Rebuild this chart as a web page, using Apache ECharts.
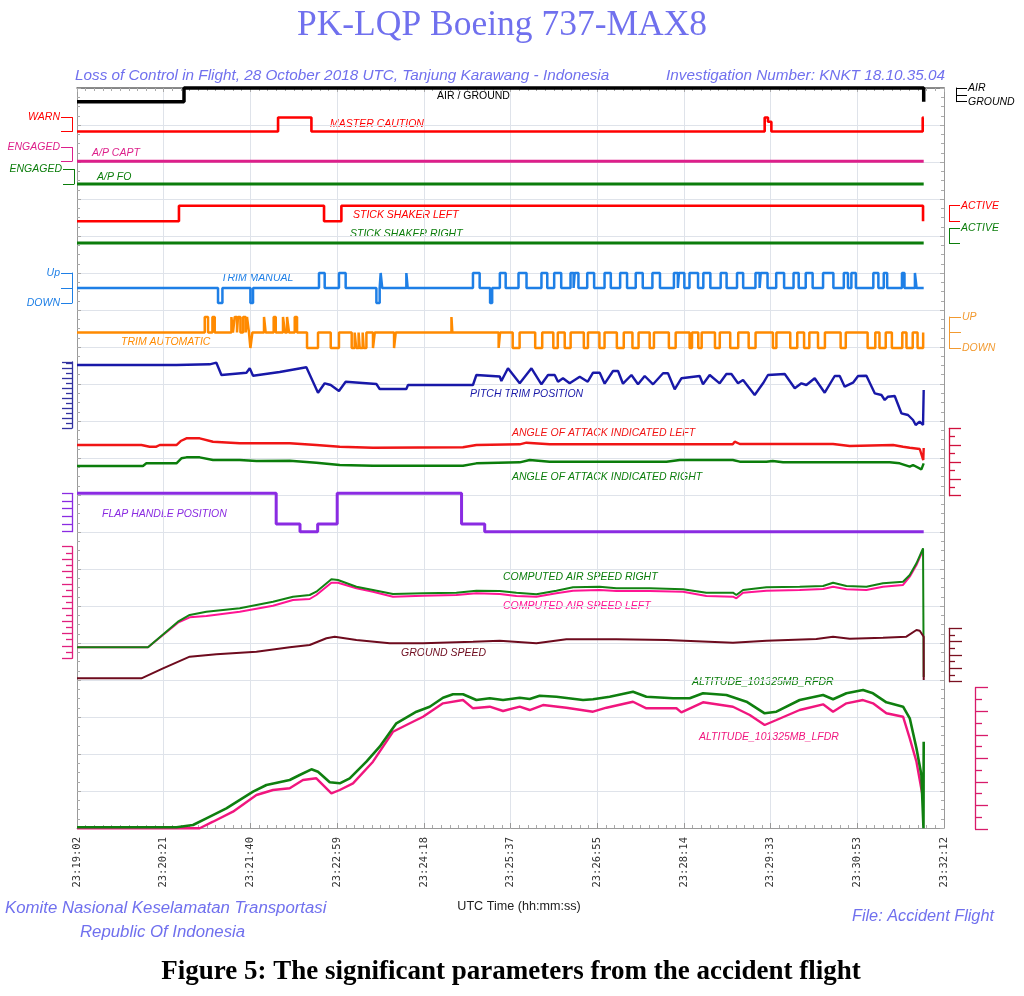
<!DOCTYPE html>
<html><head><meta charset="utf-8">
<script src="https://cdn.jsdelivr.net/npm/echarts/dist/echarts.min.js"></script>
<style>html,body{margin:0;padding:0;background:#fff}#c{width:1024px;height:996px}</style>
</head><body><div id="c"></div>
<script>
// ---------------- DATA ----------------
const TIME_TICKS = ['23:19:02','23:20:21','23:21:40','23:22:59','23:24:18','23:25:37','23:26:55','23:28:14','23:29:33','23:30:53','23:32:12'];
const TICK_STEP_S = 79;      // seconds between time ticks
const SPAN_S = 790;          // 23:19:02 -> 23:32:12
const T_END = 771.5;         // last recorded sample (s)

// discrete parameters: [time s, state]  (state holds until next entry)
const airGround        = [[0,0],[97.5,1],[771.5,0]];
const masterCaution    = [[0,0],[183.2,1],[213.6,0],[626.6,1],[629.6,0.7],[632.7,0],[770.6,1],[771.5,1]];
const apCapt           = [[0,0],[771.5,0]];
const apFo             = [[0,0],[771.5,0]];
const stickShakerLeft  = [[0,0],[92.9,1],[225.1,0],[240.9,1],[770.9,0],[771.5,0]];
const stickShakerRight = [[0,0],[771.5,0]];

// trim switch pulses: [start s, end s, direction +1 up / -1 down]
const trimManual = [[128.5,132.5,-1],[158.0,160.4,-1],[220.5,225.7,1],[238.7,244.8,1],[272.8,275.8,-1],[276.7,278.1,1],[300.1,301.3,1],[360.8,366.9,1],[376.4,378.3,-1],[385.3,390.6,1],[402.3,409.6,1],[423.2,428.5,1],[434.8,441.2,1],[449.7,452.5,1],[453.5,456.9,1],[464.9,471.2,1],[480.7,486.4,1],[494.9,501.2,1],[509.1,515.5,1],[524.3,531.2,1],[543.9,547.5,1],[548.5,553.4,1],[558.1,565.9,1],[570.7,577.1,1],[586.5,591.9,1],[601.4,607.0,1],[618.2,622.0,1],[623.0,629.2,1],[637.1,644.3,1],[652.9,657.6,1],[664.0,670.3,1],[679.8,689.2,1],[698.7,702.5,1],[705.6,709.7,1],[725.6,730.2,1],[735.1,738.2,1],[751.7,754.0,1],[763.5,765.0,1]];
const trimAuto = [[116.4,119.4,1],[123.4,125.5,1],[140.7,142.1,1],[143.7,145.8,1],[146.7,148.9,1],[151.3,153.7,1],[154.9,156.7,1],[158.0,159.8,-1],[170.4,171.9,1],[179.2,181.1,1],[187.7,189.5,1],[191.4,193.2,1],[198.4,200.5,1],[209.6,219.6,-1],[231.2,238.7,-1],[250.3,253.0,-1],[254.4,256.6,-1],[257.6,260.3,-1],[261.2,263.7,-1],[269.7,271.3,-1],[288.9,290.4,-1],[341.2,342.0,1],[384.2,385.5,-1],[397.0,403.3,-1],[417.5,423.9,-1],[434.0,438.1,-1],[444.4,449.8,-1],[461.8,465.6,-1],[476.0,480.7,-1],[491.9,498.2,-1],[506.1,511.7,-1],[521.8,525.7,-1],[539.3,545.5,-1],[558.2,560.4,-1],[566.1,569.2,-1],[581.3,585.7,-1],[595.2,602.5,-1],[612.0,618.3,-1],[634.1,637.3,-1],[649.9,656.3,-1],[662.5,667.3,-1],[675.2,681.5,-1],[695.8,700.5,-1],[720.4,727.4,-1],[731.2,736.9,-1],[742.5,752.0,-1],[755.8,761.5,-1],[765.9,771.0,-1]];

// pitch trim position [s, units]
const pitchTrim = [[0,12.6],[90.6,12.6],[120.9,12.74],[127.0,13.06],[131.6,10.6],[154.4,11.06],[157.4,11.94],[160.4,10.46],[184.7,11.2],[209.0,12.14],[219.6,7.06],[225.7,8.94],[231.2,8.6],[238.7,7.4],[244.8,9.26],[272.8,8.8],[275.8,7.8],[300.1,7.8],[301.6,8.6],[360.8,8.6],[363.9,10.6],[385.2,10.3],[386.7,9.4],[392.7,11.94],[403.4,8.94],[414.1,11.94],[423.2,8.74],[429.2,10.6],[435.3,10.6],[438.3,9.26],[442.8,9.94],[448.9,8.94],[458.1,10.26],[465.4,9.26],[470.2,11.06],[476.3,11.06],[480.8,8.86],[488.4,11.4],[493.0,11.4],[497.5,8.86],[505.2,10.6],[511.2,8.74],[517.3,10.4],[524.9,8.74],[534.0,10.94],[538.5,10.94],[544.6,7.74],[550.7,9.94],[567.4,10.4],[570.4,8.74],[576.5,10.6],[585.6,8.94],[591.7,10.8],[596.3,10.8],[602.3,8.94],[606.9,9.6],[617.5,6.6],[625.1,8.94],[629.6,10.6],[644.9,10.8],[654.0,7.94],[660.1,8.94],[664.6,8.6],[672.2,9.94],[681.3,7.06],[690.4,10.4],[695.0,10.4],[699.5,8.26],[707.1,9.06],[711.7,10.4],[719.3,10.46],[726.9,6.94],[733.0,6.6],[736.0,5.6],[739.0,6.26],[745.1,6.4],[751.2,2.94],[757.2,2.6],[761.8,1.6],[764.2,0.6],[767.8,1.26],[770.9,0.6],[771.5,7.6]];

// angle of attack [s, deg-scale]
const aoaLeft = [[0,15.04],[58.7,15.04],[66.2,14.54],[72.3,14.54],[75.4,15.04],[90.6,15.04],[94.5,16.23],[99.7,17.03],[111.8,17.03],[123.9,16.02],[148.3,15.55],[193.8,15.55],[218.1,15.04],[239.4,14.54],[269.7,14.24],[351.7,14.36],[363.9,15.04],[403.4,15.25],[409.5,15.73],[430.7,15.25],[537.1,15.25],[597.5,15.25],[599.3,16.02],[603.9,15.34],[688.9,15.34],[704.1,14.75],[743.6,15.04],[752.7,14.54],[758.8,14.24],[767.9,13.86],[771.1,10.59],[771.5,14.15]];
const aoaRight = [[0,8.81],[60.1,8.81],[63.2,9.61],[90.6,9.61],[95.1,11.10],[99.7,11.39],[111.8,11.39],[123.9,10.59],[148.3,10.59],[163.5,10.30],[193.8,10.39],[218.1,9.79],[239.4,9.11],[269.7,8.90],[351.7,8.90],[363.9,9.61],[403.4,9.91],[412.5,10.59],[430.7,10.09],[537.1,10.09],[549.2,10.59],[597.5,10.59],[599.3,10.80],[603.9,10.09],[628.2,10.09],[633.9,10.30],[643.3,9.91],[740.5,9.91],[749.6,9.61],[758.8,8.61],[761.8,9.11],[769.4,7.83],[771.5,9.61]];

// flap handle [s, position]
const flapHandle = [[0,5],[181.5,1],[203.2,0],[219.3,1],[237.1,5],[350.4,1],[371.5,0],[771.5,0]];

// computed airspeed / ground speed [s, kt]
const casRight = [[0,35.5],[64.7,35.5],[92.0,118.1],[102.7,139.7],[117.9,150.3],[148.3,161.3],[178.6,182.6],[196.8,198.7],[212.0,204.2],[218.1,214.8],[231.8,254.8],[237.8,252.6],[254.6,231.0],[269.7,220.3],[287.9,207.4],[315.3,209.7],[345.7,211.6],[363.9,218.1],[385.2,217.1],[400.4,211.6],[418.6,206.5],[436.8,218.1],[452.0,229.0],[476.3,231.0],[491.5,225.8],[521.8,225.8],[552.2,222.6],[573.5,211.6],[597.7,211.6],[600.8,204.2],[606.9,220.3],[628.2,229.0],[658.5,231.0],[679.8,233.2],[688.9,243.9],[701.1,233.2],[719.3,231.0],[734.4,241.9],[752.7,247.1],[758.8,268.7],[764.9,306.5],[770.9,354.8],[771.5,-60]];
const casLeft = [[0,35.5],[64.7,35.5],[92.0,114.8],[102.7,132.3],[117.9,136.5],[148.3,150.3],[178.6,169.7],[196.8,188.1],[212.0,191.3],[218.1,204.2],[231.8,243.9],[237.8,243.9],[254.6,225.8],[269.7,214.8],[287.9,198.7],[315.3,201.9],[345.7,204.2],[363.9,209.7],[385.2,207.4],[400.4,201.0],[418.6,198.7],[436.8,209.7],[452.0,218.1],[476.3,220.3],[491.5,217.1],[521.8,217.1],[552.2,214.8],[573.5,201.0],[597.7,198.7],[600.8,193.5],[606.9,211.6],[628.2,218.1],[658.5,220.3],[679.8,223.5],[688.9,231.0],[701.1,222.6],[719.3,220.3],[734.4,231.0],[752.7,236.5],[758.8,263.2],[764.9,301.0],[770.9,349.4]];
const groundSpeed = [[0,25.5],[58.7,25.5],[78.4,100.4],[102.7,187.3],[127.0,205.3],[163.5,224.7],[193.8,257.7],[212.0,274.9],[227.3,325.1],[234.8,337.1],[254.6,312.4],[284.9,287.7],[315.3,287.7],[360.8,299.6],[385.2,307.1],[418.6,287.7],[445.9,317.6],[491.5,317.6],[537.1,312.4],[597.7,292.1],[628.2,307.1],[673.7,319.9],[688.9,337.1],[704.1,322.1],[734.4,329.6],[755.7,337.1],[764.9,387.3],[767.9,382.0],[771.5,337.1],[771.5,12.7]];

// pressure altitude [s, ft]
const altRight = [[0,72],[90.6,72],[105.7,170],[117.9,454],[136.1,879],[160.4,1584],[172.6,1868],[193.8,2081],[202.9,2293],[213.6,2535],[219.6,2433],[230.3,1983],[239.4,1940],[248.5,2153],[263.7,2858],[275.8,3494],[291.0,4488],[309.3,4981],[321.4,5193],[333.5,5575],[342.6,5719],[351.7,5719],[363.9,5477],[376.1,5550],[388.2,5477],[403.4,5575],[412.5,5520],[421.6,5660],[436.8,5617],[461.1,5477],[470.2,5507],[485.4,5617],[506.6,5830],[518.8,5617],[543.1,5550],[558.3,5550],[570.4,5762],[591.7,5690],[610.0,5405],[626.6,4913],[637.3,4981],[658.5,5477],[679.8,5690],[688.9,5507],[701.1,5762],[716.2,5902],[725.3,5762],[737.5,5380],[752.7,5193],[758.8,4700],[764.9,3427],[769.4,2293],[771.3,30],[771.5,3707]];
const altLeft = [[0,30],[111.8,30],[123.9,310],[142.1,735],[163.5,1444],[178.6,1656],[193.8,1728],[205.9,2081],[218.1,2153],[231.8,1516],[239.4,1656],[251.5,1940],[269.7,2858],[287.9,4131],[300.1,4416],[315.3,4768],[333.5,5337],[351.7,5477],[360.8,5125],[376.1,5193],[388.2,5010],[403.4,5193],[412.5,5053],[424.6,5265],[445.9,5150],[470.2,4981],[482.4,5150],[506.6,5405],[518.8,5125],[546.2,5125],[550.7,4955],[570.4,5380],[597.7,5193],[613.0,4840],[626.6,4416],[637.3,4628],[658.5,5053],[679.8,5295],[688.9,4981],[701.1,5337],[716.2,5477],[725.3,5337],[737.5,4913],[752.7,4768],[758.8,3851],[764.9,2858],[770.9,1304]];

// ---------------- BUILD ----------------
function pulses(list){ const d=[[0,0]]; list.forEach(p=>{d.push([p[0],p[2]]);d.push([p[1],0]);}); d.push([T_END,0]); return d; }

const C = {red:'#ff0000', mag:'#dd1f8a', green:'#0b7d0b', blue:'#1e7fe6', orange:'#ff8a00', navy:'#1818a8', purple:'#8a2be2', pink:'#ff1493', maroon:'#6e0b1e'};
const SANS = '"Liberation Sans", Arial, sans-serif';
const GRIDC = '#dfe3ea';
const grid=[], xAxis=[], yAxis=[], series=[];

grid.push({left:77, right:80, top:88, bottom:168});
const frameLine = {show:true, onZero:false, lineStyle:{color:'#9a9a9a', width:1}};
xAxis.push({type:'value', gridIndex:0, min:0, max:SPAN_S, interval:TICK_STEP_S, position:'bottom', axisLine:frameLine,
  axisTick:{show:true, inside:true, length:5, lineStyle:{color:'#9a9a9a'}},
  minorTick:{show:true, splitNumber:10, length:3, lineStyle:{color:'#aaaaaa'}},
  splitLine:{show:true, lineStyle:{color:GRIDC, width:1}},
  axisLabel:{show:true, rotate:90, margin:9, fontFamily:'"DejaVu Sans Mono", monospace', fontSize:10.5, color:'#333',
    showMinLabel:true, showMaxLabel:true, formatter:v=>TIME_TICKS[Math.round(v/TICK_STEP_S)]||''}});
xAxis.push({type:'value', gridIndex:0, min:0, max:SPAN_S, interval:TICK_STEP_S, position:'top', axisLine:{show:true, onZero:false, lineStyle:{color:'#666', width:1.5}},
  axisTick:{show:true, inside:true, length:4, lineStyle:{color:'#aaaaaa'}}, minorTick:{show:true, splitNumber:10, length:3, lineStyle:{color:'#aaaaaa'}},
  splitLine:{show:false}, axisLabel:{show:false}});
yAxis.push({type:'value', gridIndex:0, min:0, max:20, interval:1, position:'left', axisLine:frameLine,
  axisTick:{show:true, inside:true, length:4, lineStyle:{color:'#aaaaaa'}}, minorTick:{show:true, splitNumber:4, length:3, lineStyle:{color:'#aaaaaa'}},
  splitLine:{show:true, lineStyle:{color:GRIDC, width:1}}, axisLabel:{show:false}});
yAxis.push({type:'value', gridIndex:0, min:0, max:20, interval:1, position:'right', axisLine:frameLine,
  axisTick:{show:true, inside:true, length:4, lineStyle:{color:'#aaaaaa'}}, minorTick:{show:true, splitNumber:4, length:3, lineStyle:{color:'#aaaaaa'}},
  splitLine:{show:false}, axisLabel:{show:false}});

function bracket(pos, offset, color, interval, labels, len){
  return {show:true, position:pos, offset, interval,
    axisLine:{show:true, onZero:false, lineStyle:{color, width:1}},
    axisTick:{show:true, length:len, lineStyle:{color, width:1}},
    axisLabel:{show:true, margin:len+1, color, fontSize:10.5, fontStyle:'italic', fontFamily:SANS, showMinLabel:true, showMaxLabel:true,
      formatter:v=> (labels[String(v)]!==undefined ? labels[String(v)] : '')}};
}
function ruler(pos, offset, color, interval, len, minorSplit, minorLen){
  return {show:true, position:pos, offset, interval,
    axisLine:{show:true, onZero:false, lineStyle:{color, width:1.3}},
    axisTick:{show:true, length:len, lineStyle:{color, width:1.3}},
    minorTick:{show:!!minorSplit, splitNumber:minorSplit||5, length:minorLen||0, lineStyle:{color, width:1.3}},
    axisLabel:{show:false}};
}
function addBand(top, height, min, max, ycfg){
  const g = grid.length;
  grid.push({left:77, right:80, top, height});
  xAxis.push({type:'value', gridIndex:g, min:0, max:SPAN_S, show:false});
  yAxis.push(Object.assign({type:'value', gridIndex:g, min, max, splitLine:{show:false}}, ycfg));
  return {x:xAxis.length-1, y:yAxis.length-1};
}
function addLine(b, name, data, color, width, step){
  series.push({type:'line', name, data, xAxisIndex:b.x, yAxisIndex:b.y, symbol:'none', showSymbol:false, step:step||false,
    lineStyle:{color, width}, itemStyle:{color}, clip:false, silent:true, animation:false});
}

const bAir  = addBand(88, 13.7, 0, 1, bracket('right', 12, '#000', 0.5, {'1':'AIR','0':'GROUND'}, 11));
const bMC   = addBand(117.5, 14, 0, 1, bracket('left', 5, C.red, 1, {'1':'WARN'}, 11));
const bAPC  = addBand(147.5, 13.7, 0, 1, bracket('left', 5, C.mag, 1, {'1':'ENGAGED'}, 11));
const bAPF  = addBand(169.5, 14.5, 0, 1, bracket('left', 3, C.green, 1, {'1':'ENGAGED'}, 11));
const bSSL  = addBand(205.7, 15.6, 0, 1, bracket('right', 5, C.red, 1, {'1':'ACTIVE'}, 11));
const bSSR  = addBand(228.5, 14.5, 0, 1, bracket('right', 5, C.green, 1, {'1':'ACTIVE'}, 11));
const bTM   = addBand(273, 30, -1, 1, bracket('left', 5, C.blue, 1, {'1':'Up','-1':'DOWN'}, 11));
const bTA   = addBand(317, 31, -1, 1, bracket('right', 5, '#f29a30', 1, {'1':'UP','-1':'DOWN'}, 12));
const bPT   = addBand(362, 66, 0, 13.2, ruler('left', 5, '#3232a0', 2, 10, 2, 6));
const bAOA  = addBand(428.3, 67.4, 0, 20, ruler('right', 5, '#d0103c', 5, 12, 2, 6));
const bFlap = addBand(493.3, 38.4, 0, 5, ruler('left', 5, C.purple, 1, 10, 0, 0));
const bCAS  = addBand(546.7, 111.6, 0, 360, ruler('left', 5, '#e0207e', 40, 10, 2, 6));
const bGS   = addBand(628.3, 53.4, 0, 400, ruler('right', 5, '#7a1020', 100, 13, 2, 6));
const bAlt  = addBand(687.7, 141.3, 0, 6000, ruler('right', 31, '#d81b6a', 1000, 13, 2, 7));

addLine(bAir, 'AIR / GROUND', airGround, '#000', 3.5, 'end');
addLine(bMC, 'MASTER CAUTION', masterCaution, C.red, 2.6, 'end');
addLine(bAPC, 'A/P CAPT', apCapt, C.mag, 3, 'end');
addLine(bAPF, 'A/P FO', apFo, C.green, 2.8, 'end');
addLine(bSSL, 'STICK SHAKER LEFT', stickShakerLeft, C.red, 2.6, 'end');
addLine(bSSR, 'STICK SHAKER RIGHT', stickShakerRight, C.green, 2.8, 'end');
addLine(bTM, 'TRIM MANUAL', pulses(trimManual), C.blue, 2.5, 'end');
addLine(bTA, 'TRIM AUTOMATIC', pulses(trimAuto), C.orange, 2.5, 'end');
addLine(bPT, 'PITCH TRIM POSITION', pitchTrim, C.navy, 2.4);
addLine(bAOA, 'ANGLE OF ATTACK INDICATED LEFT', aoaLeft, '#f01515', 2.4);
addLine(bAOA, 'ANGLE OF ATTACK INDICATED RIGHT', aoaRight, C.green, 2.4);
addLine(bFlap, 'FLAP HANDLE POSITION', flapHandle, C.purple, 3, 'end');
addLine(bCAS, 'COMPUTED AIR SPEED LEFT', casLeft, C.pink, 2);
addLine(bCAS, 'COMPUTED AIR SPEED RIGHT', casRight, '#128212', 2);
addLine(bGS, 'GROUND SPEED', groundSpeed, C.maroon, 2);
addLine(bAlt, 'ALTITUDE_101325MB_LFDR', altLeft, '#f0167e', 2.4);
addLine(bAlt, 'ALTITUDE_101325MB_RFDR', altRight, '#0f7f0f', 2.6);

// ---------------- TEXT (layout) ----------------
const HEAD = '#7070ee';
function txt(text, x, y, fill, font, align){
  return {type:'text', x, y, silent:true, style:{text, fill, font, align:align||'left', verticalAlign:'middle', textAlign:align||'left', textVerticalAlign:'middle'}};
}
const LBL = 'italic 10.5px ' + SANS;
const graphic = [
  txt('PK-LQP Boeing 737-MAX8', 502, 26, HEAD, '35.5px "Liberation Serif", "Times New Roman", serif', 'center'),
  txt('Loss of Control in Flight, 28 October 2018 UTC, Tanjung Karawang - Indonesia', 75, 76, HEAD, 'italic 15.3px ' + SANS),
  txt('Investigation Number: KNKT 18.10.35.04', 945, 76, HEAD, 'italic 15.3px ' + SANS, 'right'),
  txt('AIR / GROUND', 437, 96, '#000', '10.5px ' + SANS),
  txt('MASTER CAUTION', 330, 124, C.red, LBL),
  txt('A/P CAPT', 92, 153, C.mag, LBL),
  txt('A/P FO', 97, 177, C.green, LBL),
  txt('STICK SHAKER LEFT', 353, 215, C.red, LBL),
  txt('STICK SHAKER RIGHT', 350, 234, C.green, LBL),
  txt('TRIM MANUAL', 221, 278, C.blue, LBL),
  txt('TRIM AUTOMATIC', 121, 342, C.orange, LBL),
  txt('PITCH TRIM POSITION', 470, 394, C.navy, LBL),
  txt('ANGLE OF ATTACK INDICATED LEFT', 512, 433, '#f01515', LBL),
  txt('ANGLE OF ATTACK INDICATED RIGHT', 512, 477, C.green, LBL),
  txt('FLAP HANDLE POSITION', 102, 514, C.purple, LBL),
  txt('COMPUTED AIR SPEED RIGHT', 503, 577, C.green, LBL),
  txt('COMPUTED AIR SPEED LEFT', 503, 606, C.pink, LBL),
  txt('GROUND SPEED', 401, 653, C.maroon, LBL),
  txt('ALTITUDE_101325MB_RFDR', 692, 682, C.green, LBL),
  txt('ALTITUDE_101325MB_LFDR', 699, 737, '#f0167e', LBL),
  txt('UTC Time (hh:mm:ss)', 519, 907, '#222', '12.6px ' + SANS, 'center'),
  txt('Komite Nasional Keselamatan Transportasi', 5, 908, HEAD, 'italic 16.8px ' + SANS),
  txt('Republic Of Indonesia', 80, 932, HEAD, 'italic 16.8px ' + SANS),
  txt('File: Accident Flight', 994, 916, HEAD, 'italic 16.3px ' + SANS, 'right'),
  txt('Figure 5: The significant parameters from the accident flight', 511, 972, '#000', 'bold 27px "Liberation Serif", "Times New Roman", serif', 'center')
];

const chart = echarts.init(document.getElementById('c'), null, {width:1024, height:996});
chart.setOption({backgroundColor:'#fff', animation:false, grid, xAxis, yAxis, series, graphic});
</script></body></html>
